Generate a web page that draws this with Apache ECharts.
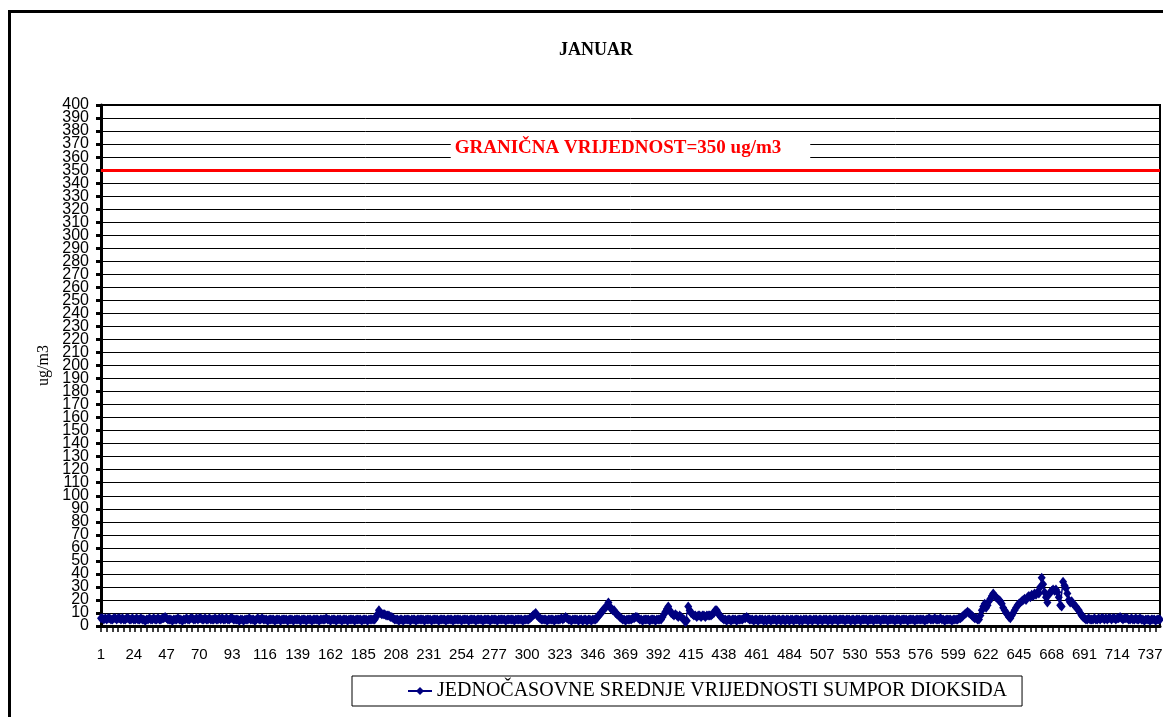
<!DOCTYPE html>
<html>
<head>
<meta charset="utf-8">
<script src="https://cdn.jsdelivr.net/npm/echarts@6/dist/echarts.min.js"></script>
<style>
  html, body { margin: 0; padding: 0; background: #fff; }
  #chart { width: 1163px; height: 717px; }
</style>
</head>
<body>
<div id="chart"></div>
<script>
// hourly values for January (744 hours), one row per day
const so2 = [
  6,6,5,6,5,6,6,5,5,6,6,5,6,6,5,6,5,5,6,6,5,5,6,5,
  5,6,5,5,6,5,5,4,5,5,6,5,5,6,5,5,6,5,5,6,6,7,6,5,
  5,5,4,5,5,5,6,5,5,4,5,5,6,5,5,6,6,5,5,6,5,6,6,5,
  5,6,5,5,6,5,5,5,6,5,5,6,5,6,5,5,6,5,5,6,6,5,5,5,
  5,4,5,5,4,5,5,5,6,5,5,5,4,5,6,5,5,6,5,5,5,4,5,5,
  5,5,4,5,5,5,4,5,5,5,5,4,5,5,5,4,5,5,5,5,4,5,5,5,
  4,5,5,5,4,5,5,5,5,4,5,5,5,5,6,5,5,4,5,5,5,4,5,5,
  5,4,5,5,5,4,5,5,5,5,4,5,5,5,5,4,5,5,5,4,5,5,5,5,
  5,7,9,12,10,9,9,9,8,8,8,7,7,6,5,5,5,4,5,5,4,5,5,5,
  5,4,5,5,5,4,5,5,5,5,5,4,5,5,5,5,4,5,5,5,5,4,5,5,
  5,5,4,5,5,5,5,4,5,5,5,5,5,4,5,5,5,5,4,5,5,5,5,4,
  5,5,5,5,4,5,5,5,5,4,5,5,5,5,4,5,5,5,5,5,4,5,5,5,
  5,5,4,5,5,5,5,5,4,5,5,5,5,6,7,8,9,10,8,7,6,5,5,5,
  5,4,5,5,5,5,4,5,5,5,5,6,5,6,7,6,5,5,4,5,5,5,5,4,
  5,5,4,5,5,4,5,5,4,5,5,5,6,8,9,10,12,13,14,16,18,15,13,12,
  12,10,9,8,7,6,5,5,4,5,5,5,5,6,6,7,7,6,5,5,4,5,5,5,
  5,4,5,5,5,4,5,5,5,5,7,9,11,13,15,12,10,9,8,9,8,7,8,7,
  6,5,3,4,15,12,10,9,8,8,7,8,8,7,8,8,7,8,8,8,8,9,10,12,
  12,10,8,7,6,5,5,4,5,5,4,5,5,5,4,5,5,5,5,6,6,7,6,5,
  5,5,4,5,5,4,5,5,5,4,5,4,5,5,4,5,5,5,4,5,5,4,5,5,
  4,5,5,4,5,5,4,5,5,5,4,5,4,5,5,5,4,5,5,4,5,5,5,4,
  5,5,4,5,5,5,4,5,5,4,5,5,5,4,5,5,5,5,4,5,5,5,4,5,
  5,4,5,5,5,4,5,5,5,5,4,5,5,5,4,5,5,5,5,4,5,5,5,5,
  4,5,5,5,5,4,5,5,5,4,5,5,5,5,4,5,5,5,5,4,5,5,5,5,
  5,5,4,5,5,6,5,5,5,6,5,5,5,6,5,5,4,5,5,5,5,4,5,5,
  5,5,6,6,7,8,9,10,11,10,9,8,7,6,6,5,5,8,12,15,17,14,16,19,
  21,23,25,23,22,21,20,19,17,14,12,10,9,7,6,8,10,12,14,16,17,18,19,20,
  21,20,22,23,22,24,23,25,24,26,25,30,37,32,26,22,18,24,26,27,28,27,28,26,
  22,16,15,34,31,29,25,20,18,19,17,16,15,13,12,10,8,7,6,5,5,6,5,5,
  5,6,5,5,6,5,6,6,5,6,5,6,6,5,6,6,5,6,6,7,6,5,6,6,
  6,5,5,6,5,5,6,5,5,6,5,5,4,5,5,5,4,5,5,5,4,5,5,5
];
const hours = [];
for (let h = 1; h <= so2.length; h++) hours.push(String(h));
const yMin = 0;
const yMax = 400;
const yStep = 10;
const limitValue = 350;
const seriesName = "JEDNOČASOVNE SREDNJE VRIJEDNOSTI SUMPOR DIOKSIDA";

const labelFont = { color: "#000", fontFamily: "Liberation Sans", fontSize: 16, margin: 12 };

// the labels are drawn by two stacked axes (even / odd tens) so that none gets dropped
function yAxisBase(extra) {
  return Object.assign({
    type: "value",
    position: "left",
    min: yMin,
    max: yMax,
    interval: yStep,
    axisLine: { show: false },
    axisTick: { show: false },
    splitLine: { show: false },
  }, extra);
}

const chart = echarts.init(document.getElementById("chart"));
chart.setOption({
  animation: false,
  title: {
    text: "JANUAR",
    left: 554,
    top: 36,
    textStyle: { fontFamily: "Liberation Serif", fontSize: 18, fontWeight: "bold", color: "#000" },
  },
  graphic: [
    {
      type: "rect",
      shape: { x: 9.5, y: 11.5, width: 1300, height: 900 },
      style: { fill: "none", stroke: "#000", lineWidth: 3 },
    },
  ],
  legend: {
    left: 352,
    top: 676,
    padding: [5, 15, 5, 55],
    borderColor: "#000",
    borderWidth: 1,
    itemWidth: 24,
    itemHeight: 10,
    itemGap: 4,
    textStyle: { fontFamily: "Liberation Serif", fontSize: 20, color: "#000" },
    data: [seriesName],
  },
  grid: {
    left: 101,
    right: 3,
    top: 105,
    bottom: 91,
    outerBoundsMode: "none",
    show: true,
    borderColor: "#000",
    borderWidth: 2,
  },
  xAxis: {
    type: "category",
    data: hours,
    boundaryGap: false,
    axisLine: { lineStyle: { color: "#000", width: 3 } },
    axisTick: { interval: 3, length: 6, lineStyle: { color: "#000", width: 1.5 } },
    axisLabel: {
      interval: 22,
      margin: 21,
      color: "#000",
      fontFamily: "Liberation Sans",
      fontSize: 15,
    },
  },
  yAxis: [
    yAxisBase({
      name: "ug/m3",
      nameLocation: "middle",
      nameGap: 47,
      nameTextStyle: { fontFamily: "Liberation Serif", fontSize: 16, color: "#000" },
      axisLine: { show: true, lineStyle: { color: "#000", width: 3 } },
      axisTick: { show: true, length: 5, lineStyle: { color: "#000", width: 3 } },
      splitLine: { show: true, lineStyle: { color: "#000", width: 1 } },
      axisLabel: Object.assign({}, labelFont, {
        showMinLabel: true,
        showMaxLabel: true,
        formatter: (v) => (v % 20 === 0 ? String(v) : ""),
      }),
    }),
    yAxisBase({
      axisLabel: Object.assign({}, labelFont, {
        showMinLabel: false,
        showMaxLabel: false,
        formatter: (v) => (v % 20 === 10 ? String(v) : ""),
      }),
    }),
  ],
  series: [
    {
      name: seriesName,
      type: "line",
      yAxisIndex: 0,
      data: so2,
      showAllSymbol: true,
      symbol: "diamond",
      symbolSize: [8, 10],
      itemStyle: { color: "#000080" },
      lineStyle: { color: "#000080", width: 1.5 },
      markLine: {
        silent: true,
        symbol: "none",
        lineStyle: { color: "#ff0000", width: 3, type: "solid" },
        label: {
          position: "insideMiddleTop",
          distance: 7,
          formatter: "GRANIČNA VRIJEDNOST=" + limitValue + " ug/m3",
          color: "#ff0000",
          fontFamily: "Liberation Serif",
          fontWeight: "bold",
          fontSize: 19,
          backgroundColor: "#fff",
          padding: [2, 29, 6, 4],
        },
        data: [{ yAxis: limitValue }],
      },
    },
  ],
});
</script>
</body>
</html>
